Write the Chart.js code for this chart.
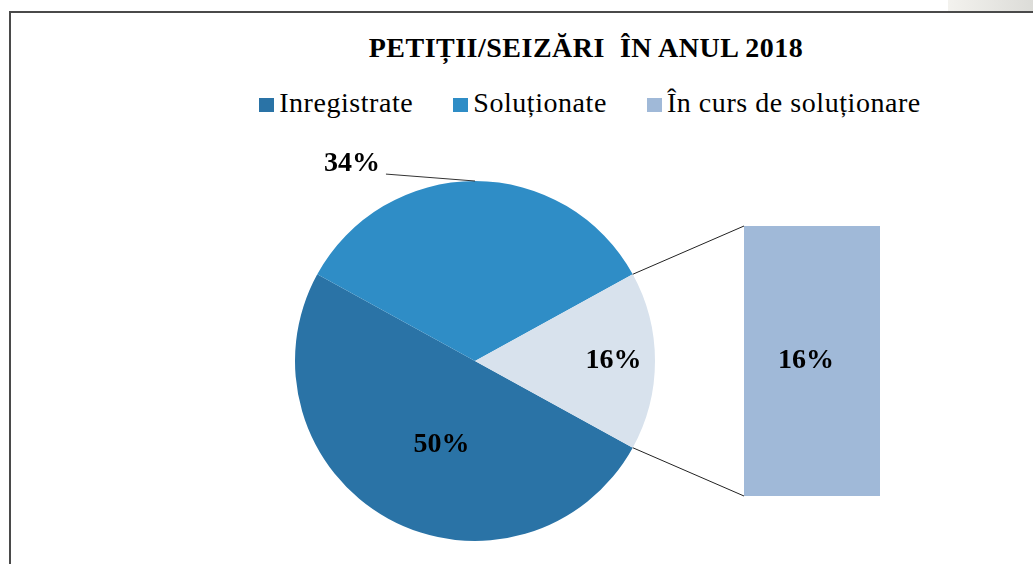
<!DOCTYPE html>
<html>
<head>
<meta charset="utf-8">
<script src="https://cdn.jsdelivr.net/npm/chart.js@4.4.1/dist/chart.umd.min.js"></script>
<style>
    html, body { margin: 0; padding: 0; width: 1033px; height: 564px; overflow: hidden; background: #fff; }
    #corner { position: absolute; left: 948px; top: 0; width: 85px; height: 11px; background: linear-gradient(90deg, #f3f2ee, #dcdcd8); }
    #frame { position: absolute; left: 9px; top: 11px; width: 1200px; height: 600px; border-top: 2px solid #4a4a4a; border-left: 2px solid #4a4a4a; }
    #title { position: absolute; left: 0; top: 34px; width: 1172px; text-align: center; font-family: "Liberation Serif", serif; font-weight: bold; font-size: 28px; line-height: 28px; letter-spacing: 0.5px; color: #000; white-space: pre; }
    #legend { position: absolute; left: 0; top: 89px; width: 1180px; text-align: center; font-family: "Liberation Serif", serif; font-size: 28px; line-height: 28px; letter-spacing: 0.55px; color: #000; white-space: nowrap; }
    #legend span.item { margin: 0 20px; }
    #legend span.box { display: inline-block; width: 15px; height: 14px; margin-right: 5px; vertical-align: baseline; }
    canvas { position: absolute; left: 0; top: 0; }
</style>
</head>
<body>
<div id="corner"></div>
<div id="frame"></div>
<div id="title"></div>
<div id="legend"></div>
<canvas id="pieChart" width="1033" height="564"></canvas>
<canvas id="barChart" width="1033" height="564"></canvas>
<script>
const chartTitle = 'PETIȚII/SEIZĂRI  ÎN ANUL 2018';
const categories = ['Inregistrate', 'Soluționate', 'În curs de soluționare'];
const shares = [50, 34, 16];
const pieColors = ['#2a73a6', '#2f8dc6', '#d8e2ed'];
const legendColors = ['#2a73a6', '#2f8dc6', '#a0b9d8'];
// the last category is split out into the bar on the right
const barColor = '#a0b9d8';

const labelFont = 'bold 28px "Liberation Serif", serif';
const total = shares.reduce((a, b) => a + b, 0);
const pct = v => Math.round(v / total * 100) + '%';

// title and legend
document.getElementById('title').textContent = chartTitle;
document.getElementById('legend').innerHTML = categories.map((c, i) =>
    '<span class="item"><span class="box" style="background:' + legendColors[i] + '"></span>' + c + '</span>'
).join('');

// label placement per slice: distance from centre (x radius), angle shift in degrees
const labelPlace = [
    {dist: 0.5, shift: -7},
    {dist: 1.29, shift: -32, leader: true},
    {dist: 0.77, shift: 0}
];

const pieLabels = {
    id: 'pieLabels',
    afterDatasetsDraw(chart) {
        const ctx = chart.ctx;
        const meta = chart.getDatasetMeta(0);
        ctx.save();
        ctx.font = labelFont;
        ctx.fillStyle = '#000';
        ctx.textAlign = 'center';
        ctx.textBaseline = 'middle';
        meta.data.forEach((arc, i) => {
            const p = arc.getProps(['x', 'y', 'outerRadius', 'startAngle', 'endAngle'], true);
            const mid = (p.startAngle + p.endAngle) / 2;
            const a = mid + labelPlace[i].shift * Math.PI / 180;
            const lx = p.x + Math.cos(a) * p.outerRadius * labelPlace[i].dist;
            const ly = p.y + Math.sin(a) * p.outerRadius * labelPlace[i].dist;
            const text = pct(shares[i]);
            ctx.fillText(text, lx, ly);
            if (labelPlace[i].leader) {
                const w = ctx.measureText(text).width;
                ctx.beginPath();
                ctx.strokeStyle = '#333';
                ctx.lineWidth = 1;
                ctx.moveTo(lx + w / 2 + 6, ly + 10);
                ctx.lineTo(p.x + Math.cos(mid) * p.outerRadius, p.y + Math.sin(mid) * p.outerRadius);
                ctx.stroke();
            }
        });
        ctx.restore();
    }
};

const pieChart = new Chart(document.getElementById('pieChart'), {
    type: 'pie',
    data: {
        labels: categories,
        datasets: [{
            data: shares,
            backgroundColor: pieColors,
            borderWidth: 0
        }]
    },
    options: {
        responsive: false,
        animation: false,
        rotation: 90 + shares[2] / total * 180,
        layout: {padding: {left: 295, right: 378, top: 181, bottom: 23}},
        plugins: {
            legend: {display: false},
            tooltip: {enabled: false}
        }
    },
    plugins: [pieLabels]
});

// lines from the split slice to the bar, plus the bar label
const connectors = {
    id: 'connectors',
    afterDatasetsDraw(chart) {
        const ctx = chart.ctx;
        const arc = pieChart.getDatasetMeta(0).data[2];
        const p = arc.getProps(['x', 'y', 'outerRadius', 'startAngle', 'endAngle'], true);
        const bar = chart.getDatasetMeta(0).data[0];
        const b = bar.getProps(['x', 'y', 'base', 'width'], true);
        const left = b.x - b.width / 2;
        ctx.save();
        ctx.strokeStyle = '#222';
        ctx.lineWidth = 1;
        ctx.beginPath();
        ctx.moveTo(p.x + Math.cos(p.startAngle) * p.outerRadius, p.y + Math.sin(p.startAngle) * p.outerRadius);
        ctx.lineTo(left, b.y);
        ctx.moveTo(p.x + Math.cos(p.endAngle) * p.outerRadius, p.y + Math.sin(p.endAngle) * p.outerRadius);
        ctx.lineTo(left, b.base);
        ctx.stroke();
        ctx.font = labelFont;
        ctx.fillStyle = '#000';
        ctx.textAlign = 'center';
        ctx.textBaseline = 'middle';
        ctx.fillText(pct(shares[2]), b.x - 6, (b.y + b.base) / 2);
        ctx.restore();
    }
};

new Chart(document.getElementById('barChart'), {
    type: 'bar',
    data: {
        labels: [categories[2]],
        datasets: [{
            data: [shares[2]],
            backgroundColor: barColor,
            borderWidth: 0,
            barPercentage: 1,
            categoryPercentage: 1
        }]
    },
    options: {
        responsive: false,
        animation: false,
        layout: {padding: {left: 744, right: 153, top: 226, bottom: 68}},
        scales: {
            x: {display: false},
            y: {display: false, min: 0, max: shares[2]}
        },
        plugins: {
            legend: {display: false},
            tooltip: {enabled: false}
        }
    },
    plugins: [connectors]
});
</script>
</body>
</html>
